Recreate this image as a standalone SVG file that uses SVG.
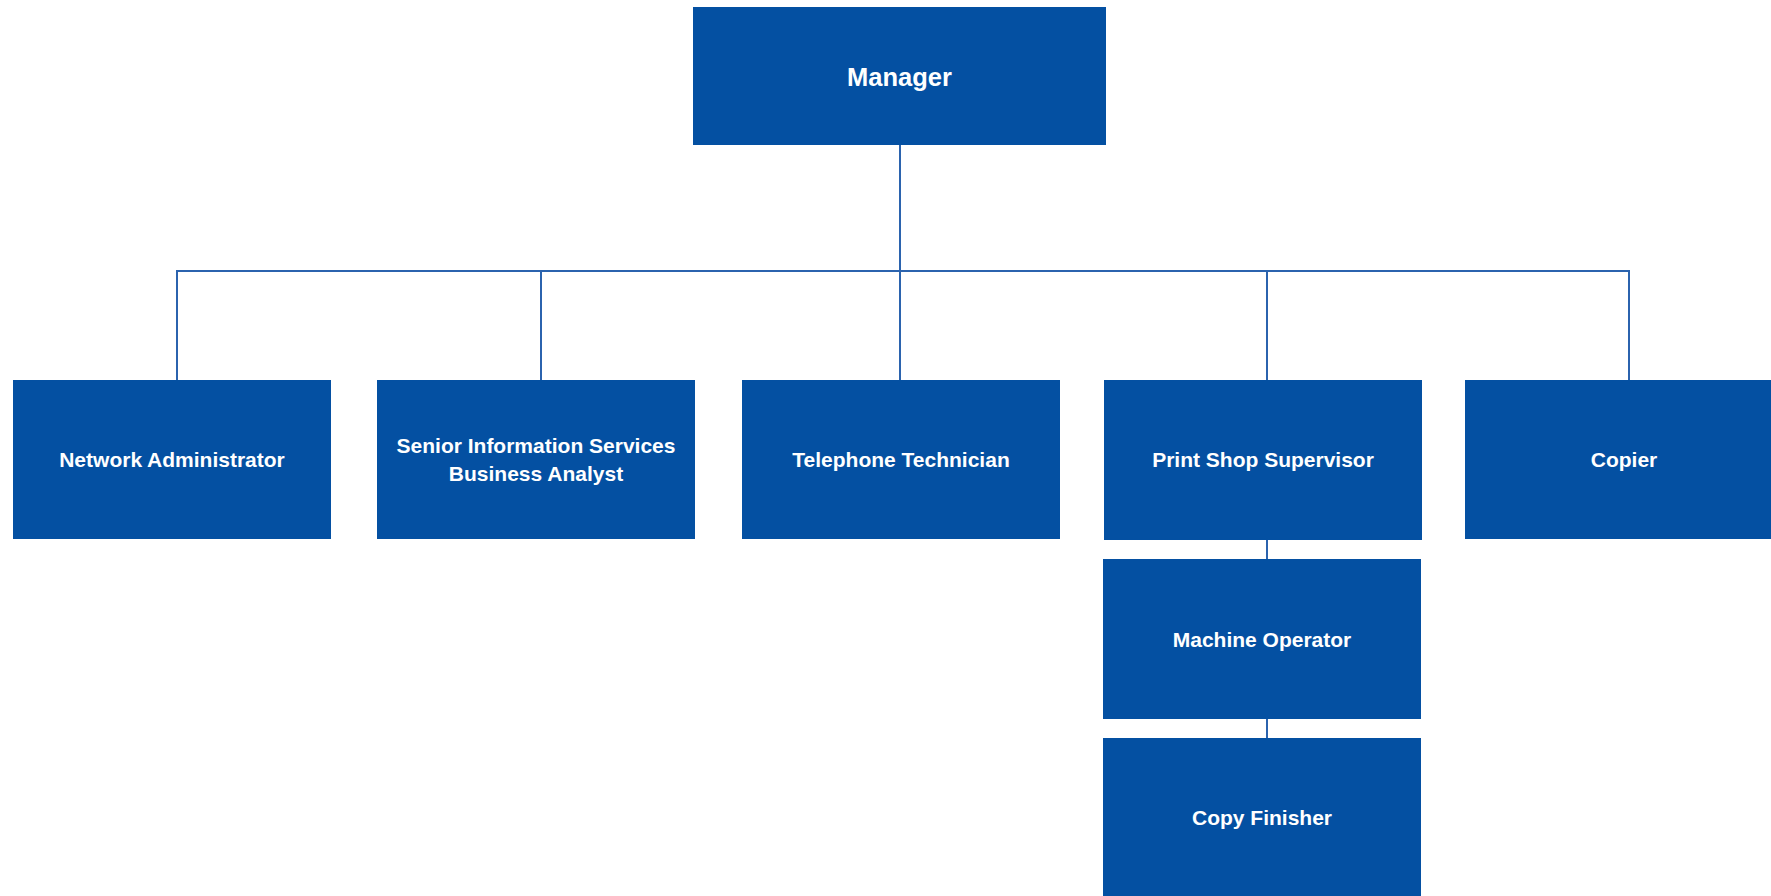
<svg xmlns="http://www.w3.org/2000/svg" width="1771" height="896" viewBox="0 0 1771 896">
<style>
.box{fill:#0450A2}
.lbl{fill:#ffffff;font-family:"Liberation Sans",Arial,sans-serif;font-weight:bold;font-size:21px;text-anchor:middle}
.big{font-size:25.5px}
.con{stroke:#2B63AE;stroke-width:2;fill:none}
</style>
<rect width="1771" height="896" fill="#ffffff"/>
<g id="connectors">
<path class="con" d="M900,145 V271 M177,380 V271 H1629 V380 M541,271 V380 M900,271 V380 M1267,271 V380 M1267,540 V559 M1267,719 V738"/>
</g>
<g id="manager"><rect class="box" x="693" y="7" width="413" height="138"/><text class="lbl big" x="899.5" y="86">Manager</text></g>
<g id="network-administrator"><rect class="box" x="13" y="380" width="318" height="159"/><text class="lbl" x="172" y="467">Network Administrator</text></g>
<g id="senior-analyst"><rect class="box" x="377" y="380" width="318" height="159"/><text class="lbl" x="536" y="453">Senior Information Services</text><text class="lbl" x="536" y="481">Business Analyst</text></g>
<g id="telephone-technician"><rect class="box" x="742" y="380" width="318" height="159"/><text class="lbl" x="901" y="467">Telephone Technician</text></g>
<g id="print-shop-supervisor"><rect class="box" x="1104" y="380" width="318" height="160"/><text class="lbl" x="1263" y="467">Print Shop Supervisor</text></g>
<g id="copier"><rect class="box" x="1465" y="380" width="318" height="159"/><text class="lbl" x="1624" y="467">Copier</text></g>
<g id="machine-operator"><rect class="box" x="1103" y="559" width="318" height="160"/><text class="lbl" x="1262" y="647">Machine Operator</text></g>
<g id="copy-finisher"><rect class="box" x="1103" y="738" width="318" height="160"/><text class="lbl" x="1262" y="825">Copy Finisher</text></g>
</svg>
